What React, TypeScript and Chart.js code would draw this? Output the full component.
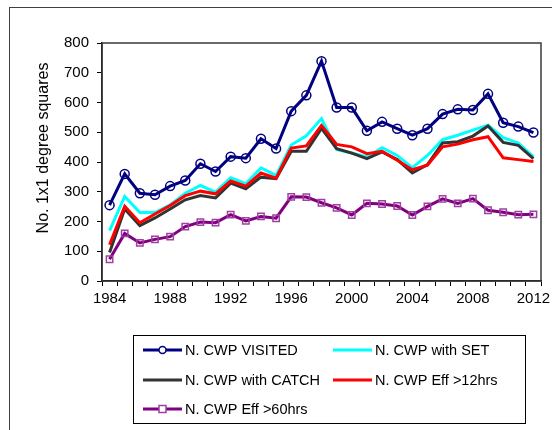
import React, { useEffect, useRef } from "react";
import { Chart, registerables } from "chart.js";

Chart.register(...registerables);

const years = [
  1984, 1985, 1986, 1987, 1988, 1989, 1990, 1991, 1992, 1993, 1994, 1995, 1996, 1997, 1998,
  1999, 2000, 2001, 2002, 2003, 2004, 2005, 2006, 2007, 2008, 2009, 2010, 2011, 2012,
];
const visited = [
  255, 360, 295, 290, 319, 338, 394, 368, 418, 413, 478, 445, 571, 624, 739,
  583, 583, 505, 535, 512, 490, 512, 561, 577, 575, 629, 532, 519, 499,
];
const withSet = [
  169, 284, 230, 230, 256, 295, 321, 299, 347, 327, 380, 355, 457, 488, 546,
  442, 430, 417, 448, 422, 381, 422, 475, 490, 507, 524, 482, 464, 417,
];
const withCatch = [
  96, 242, 186, 212, 242, 273, 287, 279, 329, 310, 349, 344, 436, 436, 513,
  445, 430, 411, 434, 408, 363, 391, 464, 468, 487, 521, 466, 456, 411,
];
const eff12 = [
  122, 251, 196, 225, 254, 287, 302, 293, 336, 319, 363, 346, 447, 454, 523,
  459, 451, 428, 436, 406, 374, 389, 451, 460, 475, 485, 414, 408, 402,
];
const eff60 = [
  73, 160, 128, 140, 149, 183, 198, 196, 223, 202, 217, 211, 283, 282, 263,
  246, 222, 261, 259, 252, 222, 251, 276, 261, 277, 238, 231, 223, 224,
];
const seriesNames = [
  "N. CWP VISITED",
  "N. CWP with SET",
  "N. CWP with CATCH",
  "N. CWP Eff >12hrs",
  "N. CWP Eff >60hrs",
];
const yTitle = "No. 1x1 degree squares";
const yTicks = [0, 100, 200, 300, 400, 500, 600, 700, 800];

const FONT = '"Liberation Sans", Arial, sans-serif';

export default function App() {
  const ref = useRef<HTMLCanvasElement>(null);

  useEffect(() => {
    if (!ref.current) return;

    const framePlugin = {
      id: "frames",
      beforeDraw(chart: any) {
        const ctx = chart.ctx;
        ctx.save();
        ctx.strokeStyle = "#404040";
        ctx.lineWidth = 1;
        ctx.strokeRect(9.5, 7.5, 600, 600);
        ctx.restore();
      },
      beforeDatasetsDraw(chart: any) {
        const { ctx, chartArea } = chart;
        ctx.save();
        ctx.strokeStyle = "#3a3a3a";
        ctx.lineWidth = 1.5;
        ctx.strokeRect(chartArea.left, chartArea.top, chartArea.right - chartArea.left, chartArea.bottom - chartArea.top);
        ctx.restore();
      },
      afterDraw(chart: any) {
        const ctx = chart.ctx;
        ctx.save();
        // y axis title
        ctx.translate(43.5, 148);
        ctx.rotate(-Math.PI / 2);
        ctx.fillStyle = "#000";
        ctx.font = `16px ${FONT}`;
        ctx.textAlign = "center";
        ctx.textBaseline = "middle";
        ctx.fillText(yTitle, 0, 0);
        ctx.restore();

        // legend box
        ctx.save();
        ctx.strokeStyle = "#000";
        ctx.lineWidth = 1;
        ctx.strokeRect(133.5, 335.5, 392, 88);
        const colX = [143, 333];
        const rowY = [350, 380, 409];
        chart.data.datasets.forEach((ds: any, i: number) => {
          const x0 = colX[i % 2];
          const y = rowY[Math.floor(i / 2)];
          ctx.strokeStyle = ds.borderColor;
          ctx.lineWidth = 3;
          ctx.beginPath();
          ctx.moveTo(x0, y);
          ctx.lineTo(x0 + 39, y);
          ctx.stroke();
          if (ds.pointRadius > 0) {
            ctx.lineWidth = 1.5;
            ctx.strokeStyle = ds.pointBorderColor;
            ctx.fillStyle = "#fff";
            const cx = x0 + 19.5;
            if (ds.pointStyle === "rect") {
              ctx.fillRect(cx - 3.5, y - 3.5, 7, 7);
              ctx.strokeRect(cx - 3.5, y - 3.5, 7, 7);
            } else {
              ctx.beginPath();
              ctx.arc(cx, y, 3.5, 0, Math.PI * 2);
              ctx.fill();
              ctx.stroke();
            }
          }
          ctx.fillStyle = "#000";
          ctx.font = `14.5px ${FONT}`;
          ctx.textAlign = "left";
          ctx.textBaseline = "middle";
          ctx.fillText(ds.label, x0 + 42, y + 0.5);
        });
        ctx.restore();
      },
    };

    const mk = (i: number, data: number[], color: string, order: number, extra: any = {}) => ({
      label: seriesNames[i],
      data,
      borderColor: color,
      backgroundColor: "transparent",
      borderWidth: 3,
      pointRadius: 0,
      pointHoverRadius: 0,
      tension: 0,
      order,
      ...extra,
    });

    const chart = new Chart(ref.current, {
      type: "line",
      data: {
        labels: years.map(String),
        datasets: [
          mk(0, visited, "#000080", 5, {
            pointRadius: 4.5,
            pointStyle: "circle",
            pointBorderColor: "#000080",
            pointBackgroundColor: "transparent",
            pointBorderWidth: 1.5,
          }),
          mk(1, withSet, "#00FFFF", 4),
          mk(2, withCatch, "#333333", 3),
          mk(3, eff12, "#FF0000", 2),
          mk(4, eff60, "#800080", 1, {
            pointRadius: 4.5,
            pointStyle: "rect",
            pointBorderColor: "#A040A0",
            pointBackgroundColor: "transparent",
            pointBorderWidth: 1.5,
          }),
        ],
      },
      options: {
        responsive: false,
        animation: false,
        events: [],
        layout: { padding: { left: 0, top: 43, right: 11, bottom: 119 } },
        plugins: {
          legend: { display: false },
          tooltip: { enabled: false },
          title: { display: false },
        },
        scales: {
          x: {
            type: "category",
            offset: true,
            afterFit(scale: any) {
              scale.height = 30;
              scale.paddingLeft = 0;
              scale.paddingRight = 0;
            },
            grid: {
              offset: true,
              drawOnChartArea: false,
              drawTicks: true,
              tickLength: 5,
              color: "#000",
              lineWidth: 1,
            },
            border: { display: true, color: "#000", width: 1.5 },
            ticks: {
              autoSkip: false,
              maxRotation: 0,
              minRotation: 0,
              padding: 4,
              color: "#000",
              font: { family: FONT, size: 15 },
              callback: (_v: any, idx: number) => (years[idx] % 4 === 0 ? String(years[idx]) : ""),
            },
          },
          y: {
            min: 0,
            max: 800,
            afterFit(scale: any) {
              scale.width = 102;
              scale.paddingTop = 0;
              scale.paddingBottom = 0;
            },
            afterBuildTicks(scale: any) {
              scale.ticks = yTicks.map((v) => ({ value: v }));
            },
            grid: {
              drawOnChartArea: false,
              drawTicks: true,
              tickLength: 5,
              color: "#000",
              lineWidth: 1,
            },
            border: { display: true, color: "#000", width: 1.5 },
            ticks: {
              padding: 8,
              color: "#000",
              font: { family: FONT, size: 15 },
            },
          },
        },
      },
      plugins: [framePlugin],
    } as any);

    return () => chart.destroy();
  }, []);

  return (
    <div style={{ position: "fixed", left: 0, top: 0, width: 552, height: 430 }}>
      <canvas ref={ref} width={552} height={430} style={{ width: 552, height: 430, display: "block" }} />
    </div>
  );
}
